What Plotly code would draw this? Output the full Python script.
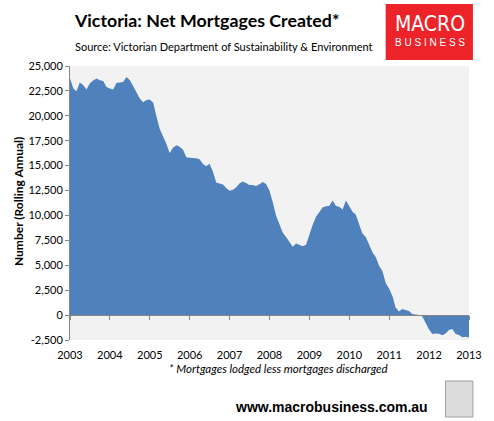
import pandas as pd
import plotly.graph_objects as go

# Monthly dates Jan 2003 .. Jan 2013
dates = pd.date_range("2003-01-01", "2013-01-01", freq="MS")

net_mortgages = [
    23740, 22740, 22470, 23340, 23100, 22640, 23250, 23550, 23740, 23560, 23500, 22880,  # 2003
    22750, 22640, 23300, 23320, 23400, 23900, 23600, 23000, 22400, 21750, 21350, 21600,  # 2004
    21650, 21300, 20000, 18700, 17950, 17200, 16280, 16800, 17050, 16900, 16600, 15850,  # 2005
    15800, 15800, 15750, 15650, 15200, 14950, 15200, 14400, 13300, 13200, 13100, 12750,  # 2006
    12470, 12580, 12800, 13200, 13400, 13250, 13050, 13050, 12950, 13130, 13350, 13150,  # 2007
    12500, 11300, 10000, 9150, 8300, 7850, 7400, 6850, 7180, 7050, 6920, 7050,            # 2008
    8200, 9100, 9850, 10300, 10800, 10920, 10950, 11500, 10950, 10870, 10600, 11500,     # 2009
    10900, 10350, 10100, 9200, 8200, 7850, 7100, 6300, 5800, 4950, 4400, 3200,           # 2010
    2650, 1900, 750, 350, 620, 480, 420, 100, 70, 20, -150, -800,                         # 2011
    -1450, -1900, -1850, -1880, -2030, -1850, -1500, -1400, -1900, -2000, -2230, -2170,  # 2012
    -2240,                                                                                # 2013
]

year_ticks = [f"{y}-01-01" for y in range(2003, 2014)]
year_labels = [str(y) for y in range(2003, 2014)]
y_ticks = list(range(-2500, 25001, 2500))
y_labels = [f"{v:,}" for v in y_ticks]

title = "Victoria: Net Mortgages Created*"
subtitle = "Source: Victorian Department of Sustainability & Environment"
y_title = "Number (Rolling Annual)"
footnote = "* Mortgages lodged less mortgages discharged"
url = "www.macrobusiness.com.au"

FONT = "Lato, 'Open Sans', sans-serif"
AXIS_GREY = "#868686"

fig = go.Figure()
fig.add_trace(go.Scatter(
    x=dates, y=net_mortgages, mode="lines", fill="tozeroy",
    line=dict(width=0, color="#4F81BD"), fillcolor="#4F81BD",
    hoverinfo="x+y", showlegend=False,
))

xr = ["2003-01-01", "2013-01-01"]
zero_pos = 2500 / 27500

fig.update_layout(
    width=494, height=421,
    margin=dict(l=70, r=17, t=66, b=81),
    paper_bgcolor="white", plot_bgcolor="#F2F2F2",
    font=dict(family=FONT, size=11, color="#000000"),
    xaxis=dict(
        range=xr, type="date", anchor="free", position=zero_pos,
        showgrid=False, zeroline=False, showline=True, linecolor=AXIS_GREY, linewidth=1,
        ticks="outside", ticklen=4, tickcolor=AXIS_GREY, tickvals=year_ticks,
        showticklabels=False,
    ),
    xaxis2=dict(
        range=xr, type="date", overlaying="x", anchor="free", position=0, side="bottom",
        showgrid=False, zeroline=False, showline=False,
        ticks="outside", ticklen=5, tickcolor="rgba(0,0,0,0)",
        tickvals=year_ticks, ticktext=year_labels, tickfont=dict(size=11, family=FONT),
    ),
    yaxis=dict(
        range=[-2500, 25000], showgrid=False, zeroline=False,
        showline=True, linecolor=AXIS_GREY, linewidth=1,
        ticks="outside", ticklen=4, tickcolor=AXIS_GREY,
        tickvals=y_ticks, ticktext=y_labels, tickfont=dict(size=11, family=FONT),
    ),
)

# invisible trace to activate xaxis2
fig.add_trace(go.Scatter(x=[dates[0]], y=[None], xaxis="x2", showlegend=False, hoverinfo="skip"))

def px(X):
    return (X - 70) / 407.0

def py(Y):
    return (340 - Y) / 274.0

anns = [
    dict(text=f"<b>{title}</b>", x=px(72), y=py(19.5), xanchor="left", yanchor="middle",
         font=dict(size=17.8, family=FONT)),
    dict(text=subtitle, x=px(73), y=py(46), xanchor="left", yanchor="middle",
         font=dict(size=11, family=FONT)),
    dict(text="MACRO", x=px(437), y=py(23.5), xanchor="center", yanchor="middle",
         font=dict(size=21, family="'Liberation Sans Narrow', 'DejaVu Sans Condensed', sans-serif", color="white")),
    dict(text="B U S I N E S S", x=px(437), y=py(42), xanchor="center", yanchor="middle",
         font=dict(size=10, family="'Liberation Sans', sans-serif", color="white")),
    dict(text=f"<b>{y_title}</b>", x=px(17), y=py(202), xanchor="center", yanchor="middle",
         textangle=-90, font=dict(size=12, family=FONT)),
    dict(text=f"<i>{footnote}</i>", x=px(283), y=py(368), xanchor="center", yanchor="middle",
         font=dict(size=11.5, family=FONT)),
    dict(text=f"<b>{url}</b>", x=px(336.5), y=py(407), xanchor="center", yanchor="middle",
         font=dict(size=14, family="'Liberation Sans', sans-serif")),
]
for a in anns:
    a.update(xref="paper", yref="paper", showarrow=False)
fig.update_layout(annotations=anns)

fig.update_layout(shapes=[
    dict(type="rect", xref="paper", yref="paper", x0=px(392), x1=px(481), y0=py(60), y1=py(4),
         fillcolor="#EC2329", line=dict(width=0), layer="below"),
    dict(type="rect", xref="paper", yref="paper", x0=px(453), x1=px(481), y0=py(417), y1=py(381),
         fillcolor="#DCDCDC", line=dict(width=1, color="#A0A0A0")),
])

fig.write_html(
    "out.html",
    config={"displayModeBar": False},
    post_script="document.body.style.margin='0';document.body.style.overflow='hidden';",
)
